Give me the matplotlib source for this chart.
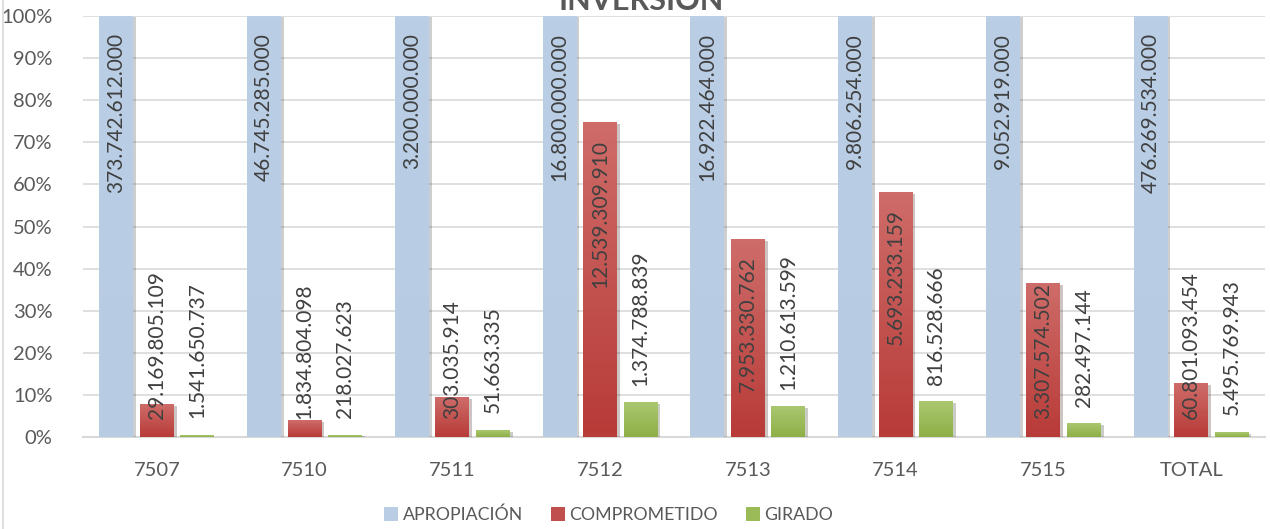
import matplotlib
matplotlib.use('Agg')
import matplotlib.pyplot as plt
import matplotlib.patheffects as pe
from matplotlib.lines import Line2D
from matplotlib.colors import LinearSegmentedColormap
import numpy as np

# data (pesos)
categorias = ['7507', '7510', '7511', '7512', '7513', '7514', '7515', 'TOTAL']
apropiacion = [373742612000, 46745285000, 3200000000, 16800000000,
               16922464000, 9806254000, 9052919000, 476269534000]
comprometido = [29169805109, 1834804098, 303035914, 12539309910,
                7953330762, 5693233159, 3307574502, 60801093454]
girado = [1541650737, 218027623, 51663335, 1374788839,
          1210613599, 816528666, 282497144, 5495769943]
series_names = ['APROPIACIÓN', 'COMPROMETIDO', 'GIRADO']
colores = ['#B9CDE5', '#C0504D', '#9BBB59']
# top / bottom shades for the gradient fill
grad = [('#BACEE6', '#B7CBE3'), ('#CE6C69', '#B83B38'), ('#AAC76F', '#8EAF47')]

plt.rcParams['font.family'] = ['Lato', 'DejaVu Sans']
txt_col = '#595959'
lab_col = '#404040'


def fmt(v):
    return '{:,}'.format(v).replace(',', '.')


def main():
    aprop = np.array(apropiacion, dtype=float)
    pct = [aprop / aprop * 100,
           np.array(comprometido) / aprop * 100,
           np.array(girado) / aprop * 100]
    raw = [apropiacion, comprometido, girado]

    fig = plt.figure(figsize=(12.7, 5.29), dpi=100)
    ax = fig.add_axes([83 / 1270, 92 / 529, 1182 / 1270, 421 / 529])
    x = np.arange(len(categorias))
    width = 0.23
    step = 0.274
    shadow = [pe.SimplePatchShadow(offset=(2, -1), alpha=0.25), pe.Normal()]
    ramp = np.linspace(0, 1, 64).reshape(-1, 1)

    for k in range(3):
        bars = ax.bar(x + (k - 1) * step, pct[k], width, color=colores[k],
                      zorder=3, linewidth=0)
        cmap = LinearSegmentedColormap.from_list('g%d' % k, [grad[k][1], grad[k][0]])
        for b in bars:
            b.set_path_effects(shadow)
            x0, y0 = b.get_x(), b.get_y()
            ax.imshow(ramp, cmap=cmap, origin='lower', aspect='auto',
                      extent=[x0, x0 + b.get_width(), y0, y0 + b.get_height()],
                      zorder=3.5, interpolation='bilinear')

    ax.set_xlim(-0.5, len(categorias) - 0.5)
    ax.set_ylim(0, 100)
    ax.set_yticks(np.arange(0, 101, 10))
    ax.set_yticklabels(['{}%'.format(v) for v in range(0, 101, 10)])
    ax.set_xticks(x)
    ax.set_xticklabels(categorias)
    ax.tick_params(axis='both', length=0, labelsize=14.5, colors=txt_col)
    ax.tick_params(axis='y', pad=22)
    ax.tick_params(axis='x', pad=18)
    ax.grid(axis='y', color='#D9D9D9', linewidth=1.2, zorder=0)
    for s in ['top', 'right', 'left']:
        ax.spines[s].set_visible(False)
    ax.spines['bottom'].set_color('#D9D9D9')
    ax.spines['bottom'].set_linewidth(1.5)

    gap = 4.0
    fs = 15
    # data labels
    for i in range(len(categorias)):
        # apropiacion: inside end
        ax.text(x[i] - step, 100 - gap, fmt(raw[0][i]), rotation=90,
                ha='center', va='top', fontsize=fs, color=lab_col, zorder=5)
        # comprometido: inside end, pushed up when it does not fit
        t = ax.text(x[i], pct[1][i] - gap, fmt(raw[1][i]), rotation=90,
                    ha='center', va='top', fontsize=fs, color=lab_col, zorder=5)
        fig.canvas.draw()
        bb = t.get_window_extent().transformed(ax.transData.inverted())
        if bb.y0 < 4.3:
            t.set_y(4.3)
            t.set_va('bottom')
        # girado: outside end
        ax.text(x[i] + step, pct[2][i] + gap, fmt(raw[2][i]), rotation=90,
                ha='center', va='bottom', fontsize=fs, color=lab_col, zorder=5)

    fig.text(0.505, 1 - 10 / 529, 'INVERSIÓN', ha='center', va='baseline',
             fontsize=22, fontweight='bold', color=txt_col)

    handles = [Line2D([], [], marker='s', linestyle='none', markersize=10,
                      markerfacecolor=c, markeredgewidth=0) for c in colores]
    fig.legend(handles, series_names, loc='center', ncol=3,
               bbox_to_anchor=(0.479, 14 / 529), frameon=False,
               fontsize=12.8, labelcolor=txt_col, handletextpad=0.2,
               columnspacing=1.5, handlelength=0.9)

    fig.add_artist(Line2D([3 / 1270, 3 / 1270], [0, 1], color='#D9D9D9',
                          linewidth=1.2, transform=fig.transFigure))

    fig.savefig('out.png', dpi=100)


if __name__ == '__main__':
    main()
